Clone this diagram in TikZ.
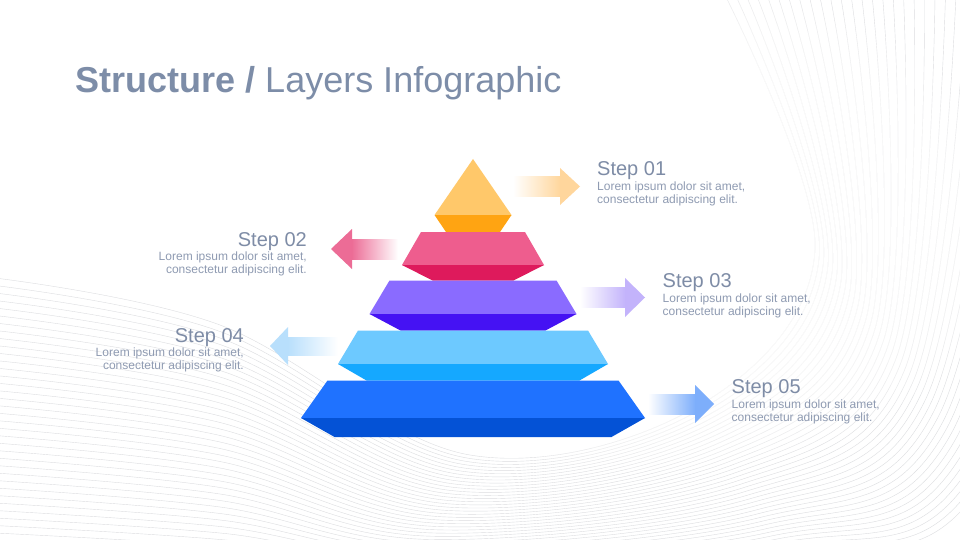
\documentclass[tikz,border=0pt]{standalone}
\usepackage{fontspec}
\setmainfont{Liberation Sans}
\definecolor{titlecol}{HTML}{7D8DA8}
\definecolor{ttlcol}{HTML}{7E8CA6}
\definecolor{bodycol}{HTML}{8F9BB2}
\definecolor{bgl}{HTML}{DCDDE0}
\definecolor{aA}{HTML}{FFC86A}\definecolor{aB}{HTML}{FFA412}
\definecolor{bA}{HTML}{EE5D8E}\definecolor{bB}{HTML}{DE1A5C}
\definecolor{cA}{HTML}{8A6BFF}\definecolor{cB}{HTML}{4512F3}
\definecolor{dA}{HTML}{6DC9FF}\definecolor{dB}{HTML}{15A8FF}
\definecolor{eA}{HTML}{1F72FF}\definecolor{eB}{HTML}{0452D6}
\definecolor{ar1}{HTML}{FFD69C}
\definecolor{ar2}{HTML}{EC6C96}
\definecolor{ar3}{HTML}{C3B3FB}
\definecolor{ar4}{HTML}{B8DFFC}
\definecolor{ar5}{HTML}{7DAEFB}
\tikzset{
  bgline/.style={draw=bgl, line width=0.4pt},
  stepttl/.style={inner sep=0pt, text=ttlcol, font=\fontsize{20}{20}\selectfont},
  stepbody/.style={inner sep=0pt, text=bodycol, font=\fontsize{12}{13}\selectfont},
}
\begin{document}
\begin{tikzpicture}[x=1pt,y=-1pt]
\useasboundingbox (0,0) rectangle (960,540);
\fill[white] (0,0) rectangle (960,540);
% background wave lines
\begin{scope}
\clip (0,0) rectangle (960,540);
\foreach \i in {0,...,40} {
  \pgfmathsetmacro\t{\i/40}
  \draw[bgline] plot[smooth, tension=0.6] coordinates {
    (-5,278+300*\t) (220,325+260*\t) (470-60*\t,455+130*\t)
    (700+80*\t,405+150*\t) (815+170*\t,250+230*\t) (725+420*\t,-5)};
}
\foreach \k in {0,...,13} {
  \pgfmathsetmacro\rx{360-13*\k}
  \pgfmathsetmacro\ry{245-9*\k}
  \fill[white, opacity=0.16] (655,225) ellipse ({\rx} and {\ry});
}
\end{scope}
% title
\node[anchor=base west, inner sep=0pt, text=titlecol, font=\fontsize{36}{36}\selectfont] (title) at (75,93) {\textbf{Structure /} Layers Infographic};
% pyramid layers
\fill[aA] (473,159) -- (511.5,215) -- (434.5,215) -- cycle;
\fill[aB] (434.5,215) -- (511.5,215) -- (500,232) -- (446,232) -- cycle;
\fill[bA] (421,232) -- (525,232) -- (544,265) -- (402,265) -- cycle;
\fill[bB] (402,265) -- (544,265) -- (513.5,280.5) -- (432.5,280.5) -- cycle;
\fill[cA] (389.5,280.5) -- (556.5,280.5) -- (576.5,314) -- (369.5,314) -- cycle;
\fill[cB] (369.5,314) -- (576.5,314) -- (545.5,330.5) -- (400.5,330.5) -- cycle;
\fill[dA] (358,330.5) -- (588,330.5) -- (608,364) -- (338,364) -- cycle;
\fill[dB] (338,364) -- (608,364) -- (579.5,380.5) -- (366.5,380.5) -- cycle;
\fill[eA] (327.5,380.5) -- (618.5,380.5) -- (645,418) -- (301,418) -- cycle;
\fill[eB] (301,418) -- (645,418) -- (611.5,437) -- (334.5,437) -- cycle;
% arrows
\shade[left color=white, right color=ar1] (513,177) rectangle (560.5,196);
\fill[ar1] (560,168) -- (580,186.5) -- (560,205) -- cycle;
\shade[left color=ar2, right color=white] (351.5,239) rectangle (398,259);
\fill[ar2] (352,229) -- (331,249) -- (352,269) -- cycle;
\shade[left color=white, right color=ar3] (580,287) rectangle (625.5,307);
\fill[ar3] (625,278) -- (645,297.5) -- (625,317) -- cycle;
\shade[left color=ar4, right color=white] (287.5,337) rectangle (338,355);
\fill[ar4] (288,327) -- (270,346) -- (288,365) -- cycle;
\shade[left color=white, right color=ar5] (648,394) rectangle (695.5,414);
\fill[ar5] (695,385) -- (714,404) -- (695,423) -- cycle;
% texts
\node[stepttl, anchor=base west] (t1) at (597,175.5) {Step 01};
\node[stepbody, anchor=north west, align=left] (b1) at (597,181.5) {Lorem ipsum dolor sit amet,\\consectetur adipiscing elit.};
\node[stepttl, anchor=base east] (t2) at (307,246) {Step 02};
\node[stepbody, anchor=north east, align=right] (b2) at (307,252) {Lorem ipsum dolor sit amet,\\consectetur adipiscing elit.};
\node[stepttl, anchor=base west] (t3) at (662.5,287) {Step 03};
\node[stepbody, anchor=north west, align=left] (b3) at (662.5,293.5) {Lorem ipsum dolor sit amet,\\consectetur adipiscing elit.};
\node[stepttl, anchor=base east] (t4) at (244,342) {Step 04};
\node[stepbody, anchor=north east, align=right] (b4) at (244,348) {Lorem ipsum dolor sit amet,\\consectetur adipiscing elit.};
\node[stepttl, anchor=base west] (t5) at (731.5,393.5) {Step 05};
\node[stepbody, anchor=north west, align=left] (b5) at (731.5,399.5) {Lorem ipsum dolor sit amet,\\consectetur adipiscing elit.};
\end{tikzpicture}
\end{document}
